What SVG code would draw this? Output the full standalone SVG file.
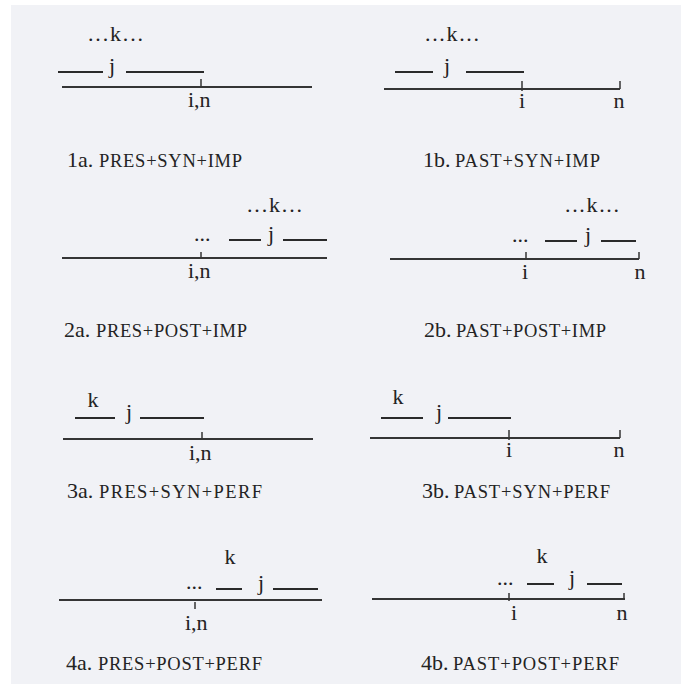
<svg xmlns="http://www.w3.org/2000/svg" width="681" height="684" viewBox="0 0 681 684">
<style>
.t{font-family:"Liberation Serif","Times New Roman",serif;font-size:22px;fill:#232323}
.sc{font-family:"Liberation Serif","Times New Roman",serif;font-size:18.5px;fill:#232323}
.m{text-anchor:middle}
.bar{stroke:#2a2a2a;stroke-width:2;fill:none}
.tl{stroke:#353535;stroke-width:2;fill:none}
.tk{stroke:#353535;stroke-width:1.5;fill:none}
</style>
<rect x="0" y="0" width="681" height="684" fill="#ffffff"/>
<rect x="11" y="5" width="670" height="679" fill="#f1f2f6"/>

<g id="p1a">
<text class="t" x="88" y="41" textLength="55" lengthAdjust="spacing">...k...</text>
<line class="bar" x1="58" y1="72" x2="103" y2="72"/>
<text class="t m" x="112" y="73">j</text>
<line class="bar" x1="126" y1="72" x2="204" y2="72"/>
<line class="tl" x1="62" y1="87" x2="312" y2="87"/>
<line class="tk" x1="201" y1="79" x2="201" y2="87"/>
<text class="t" x="188" y="107">i,n</text>
<text class="t" x="67" y="167">1a.</text>
<text class="sc" x="99" y="167" textLength="143" lengthAdjust="spacing">PRES+SYN+IMP</text>
</g>

<g id="p1b">
<text class="t" x="425" y="41" textLength="54" lengthAdjust="spacing">...k...</text>
<line class="bar" x1="395" y1="72" x2="433" y2="72"/>
<text class="t m" x="447" y="73">j</text>
<line class="bar" x1="466" y1="72" x2="524" y2="72"/>
<line class="tl" x1="384" y1="89" x2="620" y2="89"/>
<line class="tk" x1="522" y1="81" x2="522" y2="91"/>
<line class="tk" x1="620" y1="81" x2="620" y2="89"/>
<text class="t m" x="522" y="108">i</text>
<text class="t m" x="619" y="108">n</text>
<text class="t" x="423" y="167">1b.</text>
<text class="sc" x="455" y="167" textLength="145" lengthAdjust="spacing">PAST+SYN+IMP</text>
</g>

<g id="p2a">
<text class="t" x="247" y="212" textLength="55" lengthAdjust="spacing">...k...</text>
<text class="t" x="194" y="241">...</text>
<line class="bar" x1="229" y1="240" x2="261" y2="240"/>
<text class="t m" x="271" y="241">j</text>
<line class="bar" x1="283" y1="240" x2="327" y2="240"/>
<line class="tl" x1="62" y1="258" x2="327" y2="258"/>
<line class="tk" x1="201" y1="252" x2="201" y2="258"/>
<text class="t" x="188" y="278">i,n</text>
<text class="t" x="64" y="337">2a.</text>
<text class="sc" x="96" y="337" textLength="151" lengthAdjust="spacing">PRES+POST+IMP</text>
</g>

<g id="p2b">
<text class="t" x="565" y="212" textLength="54" lengthAdjust="spacing">...k...</text>
<text class="t" x="512" y="242">...</text>
<line class="bar" x1="545" y1="241" x2="577" y2="241"/>
<text class="t m" x="588" y="242">j</text>
<line class="bar" x1="601" y1="241" x2="636" y2="241"/>
<line class="tl" x1="390" y1="259" x2="639" y2="259"/>
<line class="tk" x1="526" y1="252" x2="526" y2="260"/>
<line class="tk" x1="639" y1="252" x2="639" y2="259"/>
<text class="t m" x="525" y="279">i</text>
<text class="t m" x="640" y="279">n</text>
<text class="t" x="424" y="337">2b.</text>
<text class="sc" x="456" y="337" textLength="150" lengthAdjust="spacing">PAST+POST+IMP</text>
</g>

<g id="p3a">
<text class="t m" x="93" y="407">k</text>
<line class="bar" x1="75" y1="418" x2="115" y2="418"/>
<text class="t m" x="129" y="419">j</text>
<line class="bar" x1="140" y1="418" x2="204" y2="418"/>
<line class="tl" x1="63" y1="439" x2="313" y2="439"/>
<line class="tk" x1="202" y1="432" x2="202" y2="439"/>
<text class="t" x="189" y="460">i,n</text>
<text class="t" x="67" y="498">3a.</text>
<text class="sc" x="99" y="498" textLength="163" lengthAdjust="spacing">PRES+SYN+PERF</text>
</g>

<g id="p3b">
<text class="t m" x="398" y="404">k</text>
<line class="bar" x1="381" y1="418" x2="423" y2="418"/>
<text class="t m" x="439" y="419">j</text>
<line class="bar" x1="448" y1="418" x2="511" y2="418"/>
<line class="tl" x1="370" y1="438" x2="620" y2="438"/>
<line class="tk" x1="509" y1="430" x2="509" y2="440"/>
<line class="tk" x1="620" y1="430" x2="620" y2="438"/>
<text class="t m" x="509" y="457">i</text>
<text class="t m" x="619" y="457">n</text>
<text class="t" x="422" y="498">3b.</text>
<text class="sc" x="454" y="498" textLength="156" lengthAdjust="spacing">PAST+SYN+PERF</text>
</g>

<g id="p4a">
<text class="t m" x="230" y="564">k</text>
<text class="t" x="186" y="589">...</text>
<line class="bar" x1="216" y1="589" x2="242" y2="589"/>
<text class="t m" x="261" y="590">j</text>
<line class="bar" x1="273" y1="589" x2="318" y2="589"/>
<line class="tl" x1="59" y1="600" x2="322" y2="600"/>
<line class="tk" x1="195" y1="602" x2="195" y2="609"/>
<text class="t" x="185" y="630">i,n</text>
<text class="t" x="66" y="670">4a.</text>
<text class="sc" x="98" y="670" textLength="164" lengthAdjust="spacing">PRES+POST+PERF</text>
</g>

<g id="p4b">
<text class="t m" x="542" y="563">k</text>
<text class="t" x="497" y="585">...</text>
<line class="bar" x1="527" y1="584" x2="554" y2="584"/>
<text class="t m" x="572" y="585">j</text>
<line class="bar" x1="587" y1="584" x2="622" y2="584"/>
<line class="tl" x1="372" y1="599" x2="625" y2="599"/>
<line class="tk" x1="509" y1="593" x2="509" y2="601"/>
<line class="tk" x1="624" y1="593" x2="624" y2="599"/>
<text class="t m" x="514" y="620">i</text>
<text class="t m" x="622" y="620">n</text>
<text class="t" x="421" y="670">4b.</text>
<text class="sc" x="453" y="670" textLength="166" lengthAdjust="spacing">PAST+POST+PERF</text>
</g>
</svg>
